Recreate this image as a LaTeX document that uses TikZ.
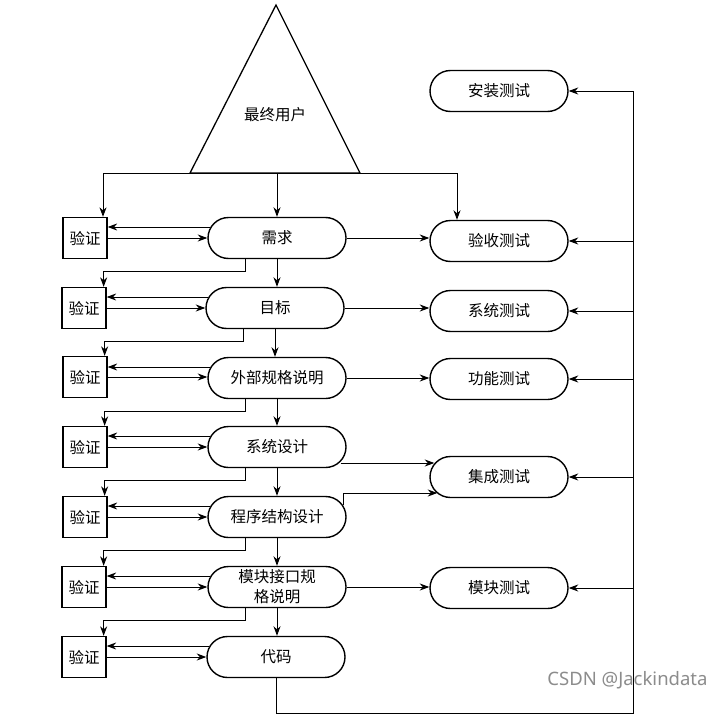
\documentclass[tikz,border=0pt]{standalone}
\usepackage{fontspec}
\setmainfont{Noto Sans CJK SC}
\newfontfamily\wmfont{Noto Sans}
\usetikzlibrary{shapes.misc,arrows.meta,calc}
\begin{document}
\begin{tikzpicture}[x=1pt,y=-1pt,
  line width=1pt,
  arr/.style={-{Stealth[length=9.5pt,width=7pt,inset=3pt]}},
  pill/.style={draw,line width=1.4pt,rounded rectangle,minimum width=140pt,minimum height=41pt,inner sep=1pt,font=\fontsize{15.5}{20}\selectfont,align=center},
  vbox/.style={draw,line width=1.3pt,minimum width=44pt,minimum height=41pt,inner sep=0pt,font=\fontsize{15.5}{18}\selectfont}]
\useasboundingbox (0,0) rectangle (720,725);
\fill[white] (0,0) rectangle (720,725);
% triangle
\coordinate (ta) at (276,5);
\coordinate (tl) at (190,173);
\coordinate (tr) at (360,173);
\draw[line width=1.3pt] (ta) -- (tl) -- (tr) -- cycle;
\node[font=\fontsize{15.5}{18}\selectfont] (user) at (275,115) {最终用户};
% left pills
\node[pill] (p1) at (277,238) {需求};
\node[pill] (p2) at (275,308) {目标};
\node[pill] (p3) at (277,378) {外部规格说明};
\node[pill] (p4) at (277,447) {系统设计};
\node[pill] (p5) at (277,517) {程序结构设计};
\node[pill] (p6) at (277,587) {模块接口规\\格说明};
\node[pill] (p7) at (276,657) {代码};
% verify boxes
\node[vbox] (v1) at (85,238) {验证};
\node[vbox] (v2) at (84,308) {验证};
\node[vbox] (v3) at (85,377) {验证};
\node[vbox] (v4) at (85,447) {验证};
\node[vbox] (v5) at (85,517) {验证};
\node[vbox] (v6) at (84,587) {验证};
\node[vbox] (v7) at (84,657) {验证};
% right pills
\node[pill] (t1) at (499,91) {安装测试};
\node[pill] (t2) at (499,241) {验收测试};
\node[pill] (t3) at (499,311) {系统测试};
\node[pill] (t4) at (499,379) {功能测试};
\node[pill] (t5) at (499,477) {集成测试};
\node[pill] (t6) at (499,588) {模块测试};
% top distribution
\coordinate (bl) at (103,173);
\coordinate (brt) at (457,173);
\draw (bl) -- (brt);
\draw[arr] (bl) -- (bl |- v1.north);
\draw[arr] (p1.north |- bl) -- (p1.north);
\draw[arr] (brt) -- (brt |- t2.north);
% pill chain
\draw[arr] (p1.south) -- (p1.south |- p2.north);
\draw[arr] (p2.south) -- (p2.south |- p3.north);
\draw[arr] (p3.south) -- (p3.south |- p4.north);
\draw[arr] (p4.south) -- (p4.south |- p5.north);
\draw[arr] (p5.south) -- (p5.south |- p6.north);
\draw[arr] (p6.south) -- (p6.south |- p7.north);
% pill to next verify
\foreach \a/\b in {p1/v2,p2/v3,p3/v4,p4/v5,p5/v6,p6/v7}{
  \draw[arr] ([xshift=-32pt]\a.south) -- ++(0,12.5) -| ([xshift=-3pt]\b.north east);
}
% pill <-> verify
\foreach \i in {1,...,7}{
  \draw[arr] ([xshift=3pt,yshift=11pt]p\i.west) -- ([yshift=11pt]p\i.west -| v\i.east);
  \draw[arr] (v\i.east) -- (v\i.east -| p\i.west);
}
% pills to tests
\draw[arr] (p1.east) -- (p1.east -| t2.west);
\draw[arr] (p2.east) -- (p2.east -| t3.west);
\draw[arr] (p3.east) -- (p3.east -| t4.west);
\draw[arr] ([xshift=-6pt,yshift=-16pt]p4.east) -- ([xshift=5pt,yshift=14pt]t5.west);
\draw[arr] ([xshift=-3pt,yshift=12pt]p5.east) |- ([xshift=8pt,yshift=-16pt]t5.west);
\draw[arr] (p6.east) -- (p6.east -| t6.west);
% return bus
\coordinate (bb) at (633,713);
\draw[arr] (p7.south) |- (bb) |- (t1.east);
\foreach \t in {t2,t3,t4,t5,t6}{
  \draw[arr] (\t.east -| bb) -- (\t.east);
}
% watermark
\node[font=\wmfont\fontsize{18.5}{20}\selectfont,text=black!45,anchor=east,inner sep=0pt] (wm) at (708,680) {CSDN @Jackindata};
\end{tikzpicture}
\end{document}
